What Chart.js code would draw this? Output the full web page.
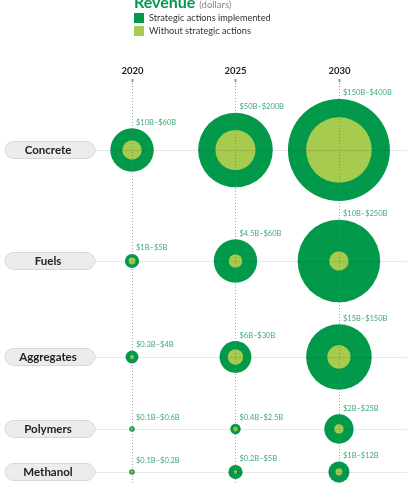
<!DOCTYPE html>
<html>
<head>
<meta charset="utf-8">
<script src="https://cdn.jsdelivr.net/npm/chart.js@4/dist/chart.umd.min.js"></script>
<style>
  html, body { margin: 0; padding: 0; background: #fff; }
  body { width: 407px; height: 483px; overflow: hidden; position: relative; font-family: Lato, "Open Sans", sans-serif; }
  #wrap { position: absolute; left: 0; top: 0; width: 407px; height: 483px; }
  #head { position: absolute; left: 134px; top: -7px; font-size: 16px; line-height: 18px; font-weight: 700; color: #00984a; white-space: nowrap; }
  #head span { font-size: 9.5px; font-weight: 400; color: #888; }
  .item { position: absolute; left: 134px; height: 10px; font-size: 9.2px; line-height: 10px; color: #333; white-space: nowrap; }
  .item i { display: inline-block; width: 10px; height: 10px; vertical-align: top; margin-right: 5px; }
</style>
</head>
<body>
<div id="wrap"><canvas id="chart"></canvas></div>
<div id="head">Revenue <span>(dollars)</span></div>
<div id="legend"></div>
<script>
// data (billions of dollars)
const categories = ['Concrete', 'Fuels', 'Aggregates', 'Polymers', 'Methanol']
const years = [2020, 2025, 2030]
const seriesNames = ['Strategic actions implemented', 'Without strategic actions']
const withActions = [
    [60, 200, 400],
    [5, 60, 250],
    [4, 30, 150],
    [0.6, 2.5, 25],
    [0.2, 5, 12]
]
const withoutActions = [
    [10, 50, 150],
    [1, 4.5, 10],
    [0.3, 6, 15],
    [0.1, 0.4, 2],
    [0.1, 0.2, 1]
]

// layout
const rowCenters = [150, 261, 357, 429, 472]
const darkGreen = '#03994a'
const lightGreen = '#a6cb4f'
const labelGreen = '#40aa75'

const radius = (v) => Math.max(1.4, 51 * Math.pow(v / 400, 0.45))

const points = (values, outer) => {
    let out = []
    values.forEach((row, i) => {
        row.forEach((v, j) => {
            let r = radius(v)
            if (outer) r = Math.max(r, radius(withoutActions[i][j]) + 1.3)
            out.push({ x: years[j], y: rowCenters[i], r: r, cat: i, yr: j })
        })
    })
    return out
}

const fmt = (v) => '$' + v + 'B'

// legend
const legendBox = document.querySelector('#legend')
const swatches = [darkGreen, lightGreen]
seriesNames.forEach((name, i) => {
    const el = document.createElement('div')
    el.className = 'item'
    el.style.top = (13 + i * 12.5) + 'px'
    el.innerHTML = '<i style="background:' + swatches[i] + '"></i>' + name
    legendBox.appendChild(el)
})

const pill = (ctx, y, text) => {
    const x0 = 5, x1 = 91, tip = 96, h = 17
    const top = y - h / 2, bottom = y + h / 2
    ctx.beginPath()
    ctx.moveTo(x0 + 8, top)
    ctx.arcTo(x1, top, tip, y, 7)
    ctx.arcTo(tip, y, x1, bottom, 1)
    ctx.arcTo(x1, bottom, x0, bottom, 7)
    ctx.arcTo(x0, bottom, x0, top, 8.5)
    ctx.arcTo(x0, top, x1, top, 8.5)
    ctx.closePath()
    ctx.fillStyle = '#ececec'
    ctx.fill()
    ctx.strokeStyle = '#d8d8d8'
    ctx.lineWidth = 1
    ctx.stroke()
    ctx.fillStyle = '#222'
    ctx.font = '700 11.5px Lato, "Open Sans", sans-serif'
    ctx.textAlign = 'center'
    ctx.textBaseline = 'middle'
    ctx.fillText(text, (x0 + x1) / 2, y + 0.5)
}

const decorations = {
    id: 'decorations',
    afterDatasetsDraw(chart) {
        const ctx = chart.ctx
        const xs = chart.scales.x
        const ys = chart.scales.y
        ctx.save()

        // row guide lines and category pills
        categories.forEach((cat, i) => {
            const y = Math.round(ys.getPixelForValue(rowCenters[i])) + 0.5
            ctx.strokeStyle = 'rgba(0,0,0,0.09)'
            ctx.lineWidth = 1
            ctx.beginPath()
            ctx.moveTo(96, y)
            ctx.lineTo(chart.width, y)
            ctx.stroke()
            pill(ctx, ys.getPixelForValue(rowCenters[i]), cat)
        })

        // year headers and dotted verticals
        years.forEach(yr => {
            const x = Math.round(xs.getPixelForValue(yr)) + 0.5
            ctx.fillStyle = '#222'
            ctx.font = '700 9.5px Lato, "Open Sans", sans-serif'
            ctx.textAlign = 'center'
            ctx.textBaseline = 'middle'
            ctx.fillText(String(yr), x, 71)
            ctx.fillStyle = '#999'
            ctx.fillRect(x - 1, 79, 2, 3)
            ctx.strokeStyle = 'rgba(120,120,120,0.7)'
            ctx.setLineDash([1, 2])
            ctx.beginPath()
            ctx.moveTo(x, 83)
            ctx.lineTo(x, chart.height)
            ctx.stroke()
            ctx.setLineDash([])
        })

        // range labels
        const outerMeta = chart.getDatasetMeta(0)
        outerMeta.data.forEach((el, k) => {
            const p = chart.data.datasets[0].data[k]
            const label = fmt(withoutActions[p.cat][p.yr]) + '\u2013' + fmt(withActions[p.cat][p.yr])
            const ly = Math.min(el.y - p.r - 6, el.y - 11)
            ctx.fillStyle = labelGreen
            ctx.font = '7.5px Lato, "Open Sans", sans-serif'
            ctx.textAlign = 'left'
            ctx.textBaseline = 'middle'
            ctx.fillText(label, el.x + 4, ly)
        })
        ctx.restore()
    }
}

const config = {
    type: 'bubble',
    data: {
        datasets: [{
            label: seriesNames[0],
            data: points(withActions, true),
            backgroundColor: darkGreen,
            borderWidth: 0,
            hoverRadius: 0,
            order: 2
        }, {
            label: seriesNames[1],
            data: points(withoutActions, false),
            backgroundColor: lightGreen,
            borderWidth: 0,
            hoverRadius: 0,
            order: 1
        }]
    },
    options: {
        responsive: true,
        maintainAspectRatio: false,
        animation: false,
        events: [],
        layout: { padding: 0, autoPadding: false },
        plugins: { legend: { display: false }, tooltip: { enabled: false } },
        scales: {
            x: { type: 'linear', display: false, min: 2013.62, max: 2033.29 },
            y: { type: 'linear', display: false, min: 0, max: 483, reverse: true }
        }
    },
    plugins: [decorations]
}

new Chart(document.getElementById('chart'), config)
</script>
</body>
</html>
